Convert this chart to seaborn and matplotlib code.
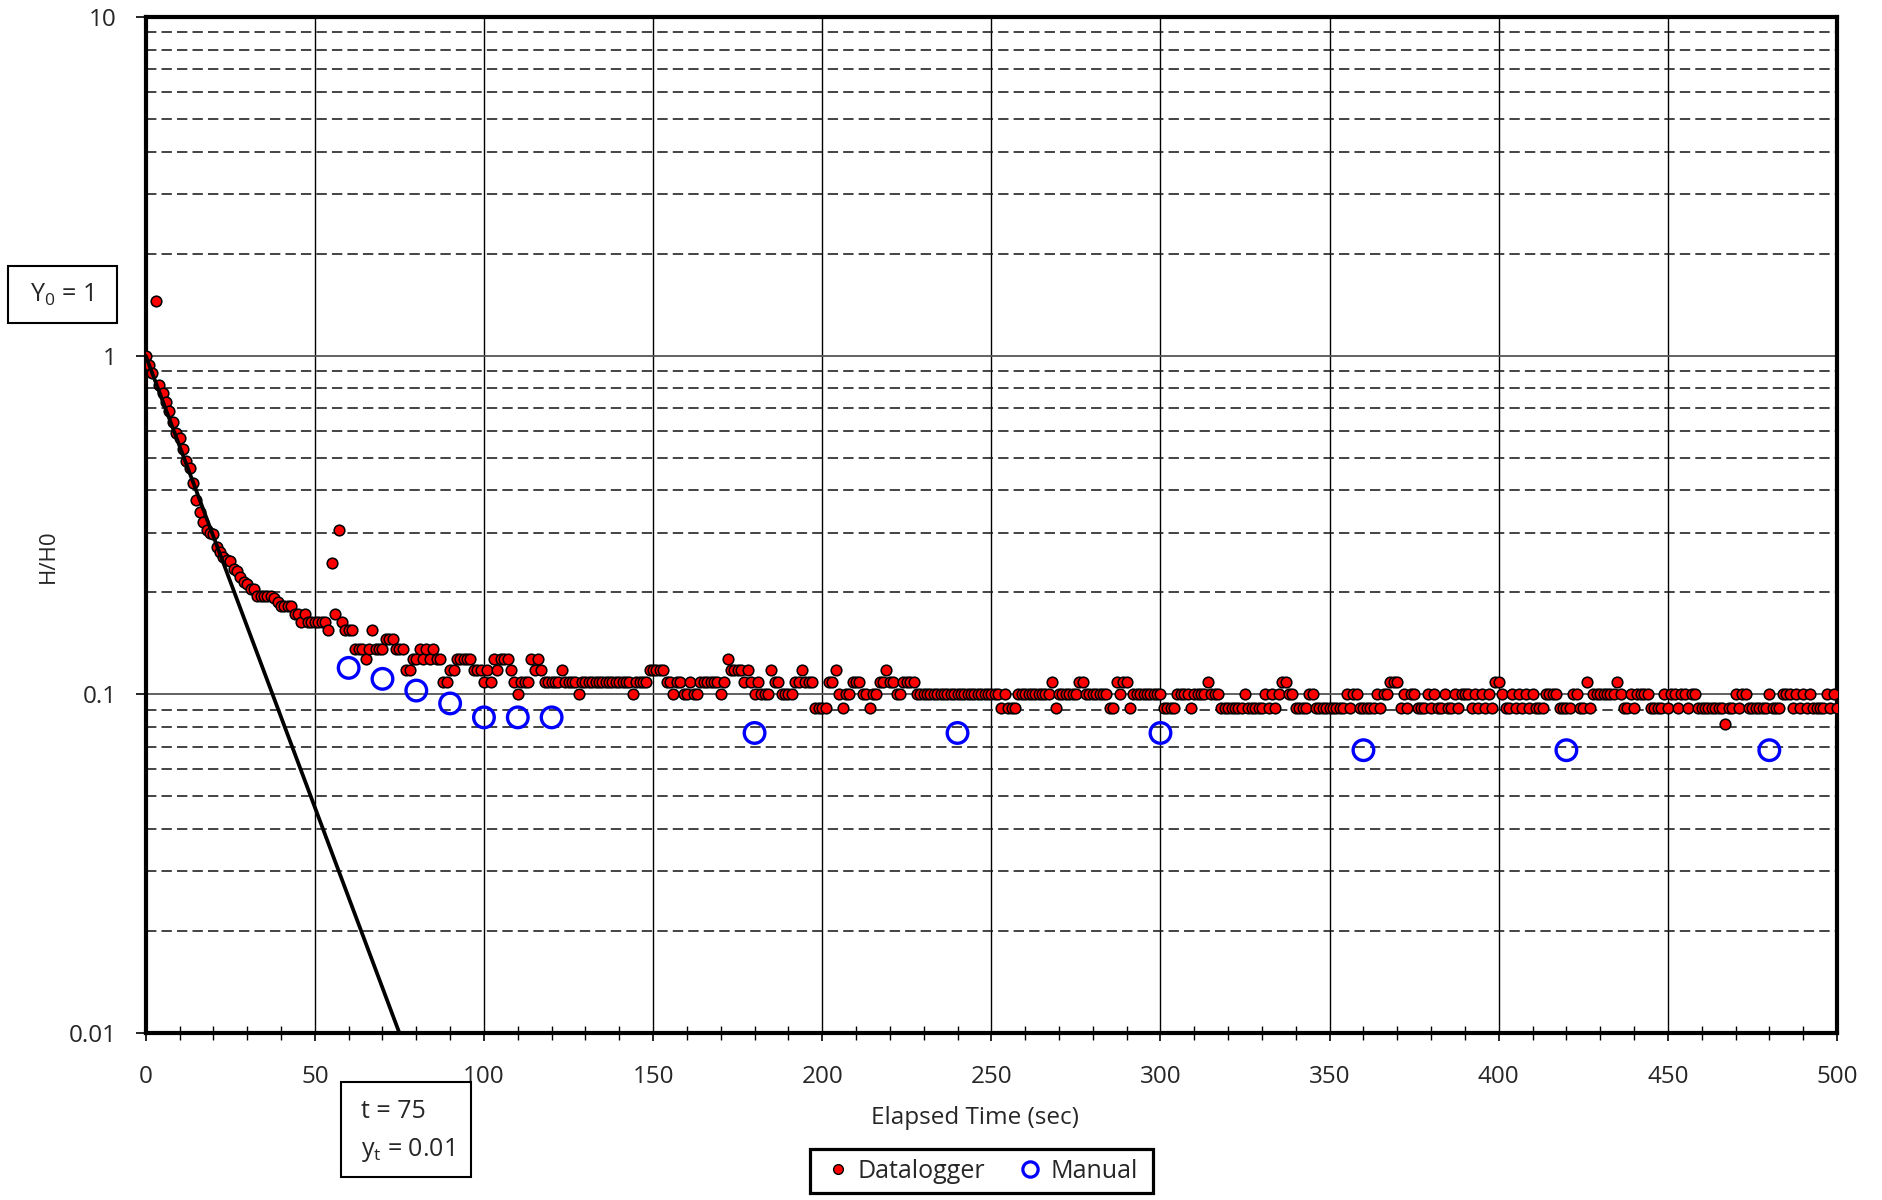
import matplotlib
matplotlib.use("Agg")
import matplotlib.pyplot as plt
import seaborn as sns
import pandas as pd
from matplotlib.lines import Line2D
from matplotlib.patches import Rectangle
from matplotlib.ticker import FixedLocator, MultipleLocator, LogLocator, NullFormatter, FixedFormatter

# ---------------- data ----------------
time_datalogger = list(range(0, 501))
hh0_datalogger = [
    1.0, 0.94, 0.89, 1.45, 0.82, 0.775, 0.73, 0.685, 0.635, 0.59,
    0.57, 0.53, 0.49, 0.465, 0.42, 0.375, 0.345, 0.323, 0.306, 0.30,
    0.297, 0.272, 0.264, 0.255, 0.25, 0.247, 0.234, 0.232, 0.222, 0.215,
    0.212, 0.204, 0.204, 0.195, 0.195, 0.195, 0.195, 0.195, 0.192, 0.1875,
    0.1818, 0.1818, 0.1818, 0.1818, 0.1727, 0.1727, 0.1636, 0.1727, 0.1636, 0.1636,
    0.1636, 0.1636, 0.1636, 0.1636, 0.1545, 0.245, 0.1727, 0.305, 0.1636, 0.1545,
    0.1545, 0.1545, 0.1364, 0.1364, 0.1364, 0.1273, 0.1364, 0.1545, 0.1364, 0.1364,
    0.1364, 0.1455, 0.1455, 0.1455, 0.1364, 0.1364, 0.1364, 0.1182, 0.1182, 0.1273,
    0.1273, 0.1364, 0.1273, 0.1364, 0.1273, 0.1364, 0.1273, 0.1273, 0.1091, 0.1091,
    0.1182, 0.1182, 0.1273, 0.1273, 0.1273, 0.1273, 0.1273, 0.1182, 0.1182, 0.1182,
    0.1091, 0.1182, 0.1091, 0.1273, 0.1182, 0.1273, 0.1273, 0.1273, 0.1182, 0.1091,
    0.1, 0.1091, 0.1091, 0.1091, 0.1273, 0.1182, 0.1273, 0.1182, 0.1091, 0.1091,
    0.1091, 0.1091, 0.1091, 0.1182, 0.1091, 0.1091, 0.1091, 0.1091, 0.1, 0.1091,
    0.1091, 0.1091, 0.1091, 0.1091, 0.1091, 0.1091, 0.1091, 0.1091, 0.1091, 0.1091,
    0.1091, 0.1091, 0.1091, 0.1091, 0.1, 0.1091, 0.1091, 0.1091, 0.1091, 0.1182,
    0.1182, 0.1182, 0.1182, 0.1182, 0.1091, 0.1091, 0.1, 0.1091, 0.1091, 0.1,
    0.1, 0.1091, 0.1, 0.1, 0.1091, 0.1091, 0.1091, 0.1091, 0.1091, 0.1091,
    0.1, 0.1091, 0.1273, 0.1182, 0.1182, 0.1182, 0.1182, 0.1091, 0.1182, 0.1091,
    0.1, 0.1091, 0.1, 0.1, 0.1, 0.1182, 0.1091, 0.1091, 0.1, 0.1,
    0.1, 0.1, 0.1091, 0.1091, 0.1182, 0.1091, 0.1091, 0.1091, 0.0909, 0.0909,
    0.0909, 0.0909, 0.1091, 0.1091, 0.1182, 0.1, 0.0909, 0.1, 0.1, 0.1091,
    0.1091, 0.1091, 0.1, 0.1, 0.0909, 0.1, 0.1, 0.1091, 0.1091, 0.1182,
    0.1091, 0.1091, 0.1, 0.1, 0.1091, 0.1091, 0.1091, 0.1091, 0.1, 0.1,
    0.1, 0.1, 0.1, 0.1, 0.1, 0.1, 0.1, 0.1, 0.1, 0.1,
    0.1, 0.1, 0.1, 0.1, 0.1, 0.1, 0.1, 0.1, 0.1, 0.1,
    0.1, 0.1, 0.1, 0.0909, 0.1, 0.0909, 0.0909, 0.0909, 0.1, 0.1,
    0.1, 0.1, 0.1, 0.1, 0.1, 0.1, 0.1, 0.1, 0.1091, 0.0909,
    0.1, 0.1, 0.1, 0.1, 0.1, 0.1, 0.1091, 0.1091, 0.1, 0.1,
    0.1, 0.1, 0.1, 0.1, 0.1, 0.0909, 0.0909, 0.1091, 0.1, 0.1091,
    0.1091, 0.0909, 0.1, 0.1, 0.1, 0.1, 0.1, 0.1, 0.1, 0.1,
    0.1, 0.0909, 0.0909, 0.0909, 0.0909, 0.1, 0.1, 0.1, 0.1, 0.0909,
    0.1, 0.1, 0.1, 0.1, 0.1091, 0.1, 0.1, 0.1, 0.0909, 0.0909,
    0.0909, 0.0909, 0.0909, 0.0909, 0.0909, 0.1, 0.0909, 0.0909, 0.0909, 0.0909,
    0.0909, 0.1, 0.0909, 0.1, 0.0909, 0.1, 0.1091, 0.1091, 0.1, 0.1,
    0.0909, 0.0909, 0.0909, 0.0909, 0.1, 0.1, 0.0909, 0.0909, 0.0909, 0.0909,
    0.0909, 0.0909, 0.0909, 0.0909, 0.0909, 0.1, 0.0909, 0.1, 0.1, 0.0909,
    0.0909, 0.0909, 0.0909, 0.0909, 0.1, 0.0909, 0.1, 0.1, 0.1091, 0.1091,
    0.1091, 0.0909, 0.1, 0.0909, 0.1, 0.1, 0.0909, 0.0909, 0.0909, 0.1,
    0.0909, 0.1, 0.0909, 0.0909, 0.1, 0.0909, 0.0909, 0.1, 0.0909, 0.1,
    0.1, 0.1, 0.0909, 0.1, 0.0909, 0.1, 0.0909, 0.1, 0.0909, 0.1091,
    0.1091, 0.1, 0.0909, 0.0909, 0.1, 0.0909, 0.1, 0.0909, 0.1, 0.0909,
    0.1, 0.0909, 0.0909, 0.0909, 0.1, 0.1, 0.1, 0.1, 0.0909, 0.0909,
    0.0909, 0.0909, 0.1, 0.1, 0.0909, 0.0909, 0.1091, 0.0909, 0.1, 0.1,
    0.1, 0.1, 0.1, 0.1, 0.1, 0.1091, 0.1, 0.0909, 0.0909, 0.1,
    0.0909, 0.1, 0.1, 0.1, 0.1, 0.0909, 0.0909, 0.0909, 0.0909, 0.1,
    0.0909, 0.1, 0.1, 0.0909, 0.1, 0.1, 0.0909, 0.1, 0.1, 0.0909,
    0.0909, 0.0909, 0.0909, 0.0909, 0.0909, 0.0909, 0.0909, 0.0818, 0.0909, 0.0909,
    0.1, 0.0909, 0.1, 0.1, 0.0909, 0.0909, 0.0909, 0.0909, 0.0909, 0.0909,
    0.1, 0.0909, 0.0909, 0.0909, 0.1, 0.1, 0.1, 0.0909, 0.1, 0.0909,
    0.1, 0.0909, 0.1, 0.0909, 0.0909, 0.0909, 0.0909, 0.1, 0.0909, 0.1,
    0.0909,
]

time_manual = [60, 70, 80, 90, 100, 110, 120, 180, 240, 300, 360, 420, 480]
hh0_manual = [0.1197, 0.1111, 0.1026, 0.0940, 0.0855, 0.0855, 0.0855,
              0.0769, 0.0769, 0.0769, 0.0684, 0.0684, 0.0684]

fit_time = [0, 75]
fit_hh0 = [1.0, 0.01]

x_ticks = [0, 50, 100, 150, 200, 250, 300, 350, 400, 450, 500]
y_ticks = [0.01, 0.1, 1, 10]
y_tick_labels = ["0.01", "0.1", "1", "10"]

df_dl = pd.DataFrame({"t": time_datalogger, "h": hh0_datalogger})
df_man = pd.DataFrame({"t": time_manual, "h": hh0_manual})
df_fit = pd.DataFrame({"t": fit_time, "h": fit_hh0})

# ---------------- style ----------------
sns.set_style("white")
plt.rcParams["font.family"] = ["Open Sans", "DejaVu Sans"]
plt.rcParams["mathtext.fontset"] = "custom"
plt.rcParams["mathtext.rm"] = "Open Sans"
plt.rcParams["mathtext.it"] = "Open Sans:italic"
plt.rcParams["mathtext.bf"] = "Open Sans:bold"

FS = 17.5
W, H = 1883, 1200
fig = plt.figure(figsize=(W / 100, H / 100), dpi=100)
ax = fig.add_axes([145.7 / W, 1 - 1033 / H, (1837 - 145.7) / W, (1033 - 17) / H])

ax.set_yscale("log")

sns.scatterplot(data=df_dl, x="t", y="h", ax=ax, color="#FF0000", edgecolor="black",
                s=58, linewidth=1.15, zorder=3, legend=False)
sns.scatterplot(data=df_man, x="t", y="h", ax=ax, facecolors="none", edgecolor="#0000FF",
                s=220, linewidth=2.4, zorder=4, legend=False)
sns.lineplot(data=df_fit, x="t", y="h", ax=ax, color="black", linewidth=2.7, zorder=5,
             legend=False)

ax.set_xlim(0, 500)
ax.set_ylim(0.01, 10)

ax.xaxis.set_major_locator(FixedLocator(x_ticks))
ax.xaxis.set_minor_locator(MultipleLocator(10))
ax.yaxis.set_major_locator(FixedLocator(y_ticks))
ax.yaxis.set_major_formatter(FixedFormatter(y_tick_labels))
ax.yaxis.set_minor_locator(LogLocator(base=10, subs=[2, 3, 4, 5, 6, 7, 8, 9]))
ax.yaxis.set_minor_formatter(NullFormatter())

ax.grid(False)
ax.grid(which="major", axis="x", color="black", linewidth=1.0, zorder=0)
ax.grid(which="major", axis="y", color="#555555", linewidth=1.3, zorder=0)
ax.grid(which="minor", axis="y", color="#1a1a1a", linewidth=1.15,
        linestyle=(0, (6.5, 3.2)), zorder=0)
ax.set_axisbelow(True)

for sp in ax.spines.values():
    sp.set_visible(True)
    sp.set_color("black")
    sp.set_linewidth(3.0)

ax.tick_params(axis="x", which="major", direction="out", length=6, width=1.2,
               color="black", labelsize=FS, pad=17, bottom=True)
ax.tick_params(axis="x", which="minor", direction="inout", length=9.5, width=1.0,
               color="black", bottom=True)
ax.tick_params(axis="y", which="major", direction="out", length=7, width=1.2,
               color="black", labelsize=FS, pad=14, left=True)
ax.tick_params(axis="y", which="minor", length=0, left=False)

ax.set_xlabel("Elapsed Time (sec)", fontsize=FS)
ax.xaxis.set_label_coords((975 - 145.7) / (1837 - 145.7), (1033 - 1118) / (1033 - 17))
ax.xaxis.label.set_va("center")
ax.set_ylabel("H/H0", fontsize=16)
ax.yaxis.set_label_coords((48 - 145.7) / (1837 - 145.7), (1033 - 556) / (1033 - 17))
ax.yaxis.label.set_va("center")

# legend (frame drawn separately)
handles = [
    Line2D([], [], marker="o", linestyle="", markerfacecolor="#FF0000",
           markeredgecolor="black", markersize=7, markeredgewidth=1.0),
    Line2D([], [], marker="o", linestyle="", markerfacecolor="none",
           markeredgecolor="#0000FF", markersize=11, markeredgewidth=2.3),
]
leg = fig.legend(handles, ["Datalogger", "Manual"], loc="center",
                 bbox_to_anchor=(981.5 / W, 1 - 1171 / H), ncol=2, frameon=False,
                 fontsize=FS + 0.5, handlelength=1.0, handletextpad=0.3,
                 columnspacing=1.3, borderpad=0.35, borderaxespad=0)
fig.add_artist(Rectangle((810 / W, 1 - 1193 / H), (1153 - 810) / W, (1193 - 1149) / H,
                         transform=fig.transFigure, facecolor="none",
                         edgecolor="black", linewidth=2.3))

# annotation boxes
fig.add_artist(Rectangle((8 / W, 1 - 323 / H), (117 - 8) / W, (323 - 266) / H,
                         transform=fig.transFigure, facecolor="white",
                         edgecolor="black", linewidth=1.5))
fig.text(62 / W, 1 - 295 / H, r"Y$_\mathrm{0}$ = 1", ha="center", va="center", fontsize=18)

fig.add_artist(Rectangle((341 / W, 1 - 1177 / H), (471 - 341) / W, (1177 - 1082) / H,
                         transform=fig.transFigure, facecolor="white",
                         edgecolor="black", linewidth=1.5))
fig.text(361 / W, 1 - 1112 / H, "t = 75", ha="left", va="center", fontsize=18)
fig.text(361 / W, 1 - 1150 / H, r"y$_\mathrm{t}$ = 0.01", ha="left", va="center", fontsize=18)

fig.savefig("out.png", dpi=100)
